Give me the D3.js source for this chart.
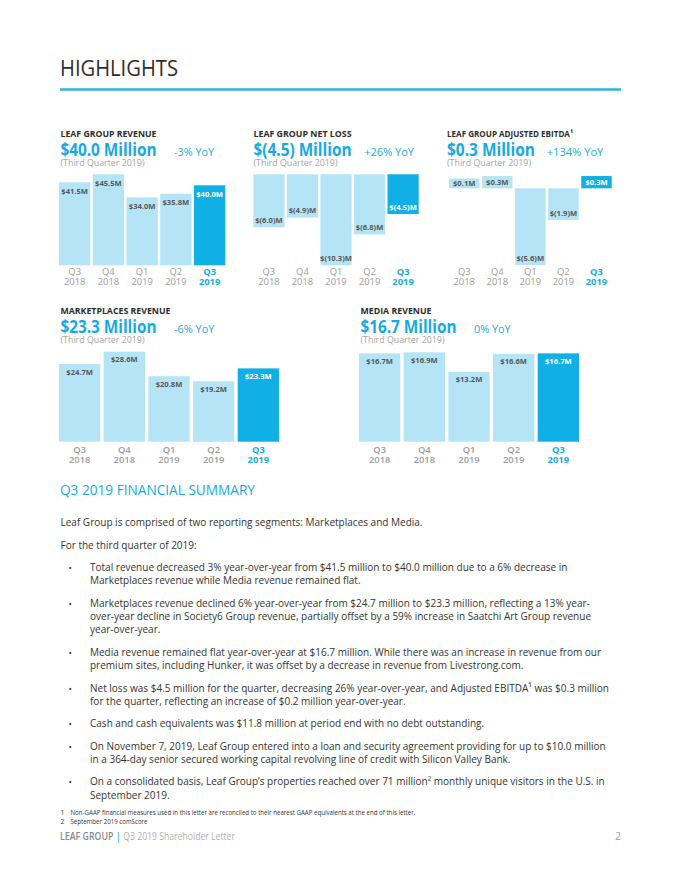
<!DOCTYPE html>
<html><head><meta charset="utf-8">
<script src="https://cdn.jsdelivr.net/npm/d3@7"></script>
<style>body{margin:0;background:#fff}svg{display:block}text{font-family:"Open Sans",sans-serif}</style>
</head><body><svg id="c" width="680" height="880"></svg>
<script>
// ---------- data ----------
const quarters = ["Q3","Q4","Q1","Q2","Q3"];
const years = ["2018","2018","2019","2019","2019"];
const revenue = [41.5,45.5,34.0,35.8,40.0];
const netLoss = [-6.0,-4.9,-10.3,-6.8,-4.5];
const adjEbitda = [0.1,0.3,-5.6,-1.9,0.3];
const marketplaces = [24.7,28.6,20.8,19.2,23.3];
const media = [16.7,16.9,13.2,16.6,16.7];
const panelTitles = ["LEAF GROUP REVENUE","LEAF GROUP NET LOSS","LEAF GROUP ADJUSTED EBITDA\u00b9","MARKETPLACES REVENUE","MEDIA REVENUE"];
const headlineValues = ["$40.0 Million","$(4.5) Million","$0.3 Million","$23.3 Million","$16.7 Million"];
const yoyChanges = ["-3% YoY","+26% YoY","+134% YoY","-6% YoY","0% YoY"];
const periodNote = "(Third Quarter 2019)";

const summaryIntro = ["Leaf Group is comprised of two reporting segments: Marketplaces and Media.","For the third quarter of 2019:"];
const bullets = [
 ["Total revenue decreased 3% year-over-year from $41.5 million to $40.0 million due to a 6% decrease in","Marketplaces revenue while Media revenue remained flat."],
 ["Marketplaces revenue declined 6% year-over-year from $24.7 million to $23.3 million, reflecting a 13% year-","over-year decline in Society6 Group revenue, partially offset by a 59% increase in Saatchi Art Group revenue","year-over-year."],
 ["Media revenue remained flat year-over-year at $16.7 million. While there was an increase in revenue from our","premium sites, including Hunker, it was offset by a decrease in revenue from Livestrong.com."],
 ["Net loss was $4.5 million for the quarter, decreasing 26% year-over-year, and Adjusted EBITDA\u00b9 was $0.3 million","for the quarter, reflecting an increase of $0.2 million year-over-year."],
 ["Cash and cash equivalents was $11.8 million at period end with no debt outstanding."],
 ["On November 7, 2019, Leaf Group entered into a loan and security agreement providing for up to $10.0 million","in a 364-day senior secured working capital revolving line of credit with Silicon Valley Bank."],
 ["On a consolidated basis, Leaf Group\u2019s properties reached over 71 million\u00b2 monthly unique visitors in the U.S. in","September 2019."]
];
const footnotes = [["1","Non-GAAP financial measures used in this letter are reconciled to their nearest GAAP equivalents at the end of this letter."],["2","September 2019 comScore"]];

// ---------- styles ----------
const BLUE="#17aae2", LIGHT="#b6e4f7", DARK="#10afe6", LBL="#595959", AX="#9b9b9b", INK="#2e2e2e";
const svg = d3.select("#c");
function fit(sel, w){ sel.attr("textLength", w).attr("lengthAdjust","spacingAndGlyphs"); }
const fmt = v => v < 0 ? `$(${Math.abs(v).toFixed(1)})M` : `$${v.toFixed(1)}M`;

svg.append("text").attr("x",60).attr("y",76).attr("font-size",21).attr("fill",INK)
  .text("HIGHLIGHTS").call(fit,118);
svg.append("line").attr("x1",60).attr("x2",621).attr("y1",89.5).attr("y2",89.5)
  .attr("stroke","#2db3e3").attr("stroke-width",2.5);

const rows = {
  top:{titleY:137, bigY:156.3, yoyY:155.5, subY:166.4, qY:275, yrY:285.2, axW:400, lblOff:11.6},
  bot:{titleY:313.8, bigY:333.3, yoyY:332.5, subY:343.4, qY:452.6, yrY:462.6, axW:600, lblOff:10.6}
};
const panels = [
 {i:0,row:"top",values:revenue,kind:"pos",x0:59,x1:225.3,tx:60.5,tw:96,bw:96,yx:174,yw:40,base:265.3,max:45.5,h:91,pad:0.07},
 {i:1,row:"top",values:netLoss,kind:"neg",x0:253.3,x1:418.7,tx:253.5,tw:98,bw:98,yx:364.3,yw:49.7,top:174.3,max:10.3,h:91,pad:0.07},
 {i:2,row:"top",values:adjEbitda,kind:"mixed",x0:449,x1:611.7,tx:447,tw:126,bw:88,yx:546.7,yw:56.6,zero:188.3,pad:0.08},
 {i:3,row:"bot",values:marketplaces,kind:"pos",x0:59,x1:279,tx:60.5,tw:110,bw:96,yx:174,yw:40.3,base:441.7,max:28.6,h:90,pad:0.075},
 {i:4,row:"bot",values:media,kind:"pos",x0:359,x1:579,tx:360.5,tw:71,bw:96,yx:474,yw:36.7,base:441.7,max:16.9,h:89.4,pad:0.075}
];

panels.forEach(p => {
  const r = rows[p.row];
  const g = svg.append("g");
  g.append("text").attr("x",p.tx).attr("y",r.titleY).attr("font-size",8.6).attr("font-weight",700)
    .attr("fill",INK).text(panelTitles[p.i]).call(fit,p.tw);
  g.append("text").attr("x",p.tx).attr("y",r.bigY).attr("font-size",17).attr("font-weight",700)
    .attr("fill",BLUE).text(headlineValues[p.i]).call(fit,p.bw);
  g.append("text").attr("x",p.yx).attr("y",r.yoyY).attr("font-size",11).attr("fill",BLUE)
    .text(yoyChanges[p.i]).call(fit,p.yw);
  g.append("text").attr("x",p.tx).attr("y",r.subY).attr("font-size",9.6).attr("fill","#a3a3a3")
    .text(periodNote).call(fit,84);

  const x = d3.scaleBand().domain(d3.range(p.values.length)).range([p.x0,p.x1]).paddingInner(p.pad).paddingOuter(0);
  let rects = [];
  if (p.kind === "pos") {
    const y = d3.scaleLinear().domain([0,p.max]).range([p.base,p.base-p.h]);
    rects = p.values.map(v => ({v, y:y(v), hgt:p.base-y(v), ly:y(v)+r.lblOff}));
  } else if (p.kind === "neg") {
    const y = d3.scaleLinear().domain([0,-p.max]).range([p.top,p.top+p.h]);
    rects = p.values.map(v => ({v, y:p.top, hgt:y(v)-p.top, ly:y(v)-4.4}));
  } else {
    const mag = d3.scaleLinear().domain([0,5.6]).range([8.6,76.7]);
    rects = p.values.map(v => v >= 0
      ? ({v, y:p.zero-mag(v), hgt:mag(v), ly:p.zero-mag(v)/2+2.7})
      : ({v, y:p.zero, hgt:mag(-v), ly:p.zero+mag(-v)-4.4}));
  }
  const last = p.values.length-1;
  g.selectAll("rect.bar").data(rects).join("rect").attr("class","bar")
    .attr("x",(d,i)=>x(i)).attr("width",x.bandwidth())
    .attr("y",d=>d.y).attr("height",d=>d.hgt)
    .attr("fill",(d,i)=> i===last ? DARK : LIGHT);
  g.selectAll("text.lbl").data(rects).join("text").attr("class","lbl")
    .attr("x",(d,i)=>x(i)+x.bandwidth()/2).attr("y",d=>d.ly)
    .attr("text-anchor","middle").attr("font-size",7.6).attr("font-weight",700)
    .attr("fill",(d,i)=> i===last ? "#fff" : LBL).text(d=>fmt(d.v));
  g.selectAll("text.q").data(quarters).join("text").attr("class","q")
    .attr("x",(d,i)=>x(i)+x.bandwidth()/2).attr("y",r.qY).attr("text-anchor","middle")
    .attr("font-size",9.4).attr("font-weight",(d,i)=> i===last ? 700 : r.axW)
    .attr("fill",(d,i)=> i===last ? BLUE : AX).text(d=>d);
  g.selectAll("text.yr").data(years).join("text").attr("class","yr")
    .attr("x",(d,i)=>x(i)+x.bandwidth()/2).attr("y",r.yrY).attr("text-anchor","middle")
    .attr("font-size",9.4).attr("font-weight",(d,i)=> i===last ? 700 : r.axW)
    .attr("fill",(d,i)=> i===last ? BLUE : AX).text(d=>d);
});

// ---------- summary ----------
svg.append("text").attr("x",60).attr("y",495.2).attr("font-size",15).attr("fill",BLUE)
  .text("Q3 2019 FINANCIAL SUMMARY").call(fit,195);

const body = svg.append("g").attr("font-size",11).attr("fill","#333");
let y = 526.3; const LH = 13.3, PG = 22.4;
const lines = [];
summaryIntro.forEach((t,k) => { lines.push({t, x:60.5, y}); y += PG; });
bullets.forEach(b => {
  body.append("text").attr("x",68.5).attr("y",y).attr("font-size",9).text("\u2022");
  b.forEach((t,j) => { lines.push({t, x:90, y}); if (j < b.length-1) y += LH; });
  y += PG;
});
const nodes = lines.map(l => body.append("text").attr("x",l.x).attr("y",l.y).text(l.t));
const ref = nodes[lines.findIndex(l => l.t.startsWith("Net loss"))];
const factor = 519 / ref.node().getComputedTextLength();
nodes.forEach(n => n.call(fit, n.node().getComputedTextLength()*factor));

// footnotes
const fn = svg.append("g").attr("font-size",6.6).attr("fill","#333");
footnotes.forEach((f,k) => {
  fn.append("text").attr("x",60.5).attr("y",814.8 + k*9.5).text(f[0]);
  const t = fn.append("text").attr("x",70.5).attr("y",814.8 + k*9.5).text(f[1]);
  t.call(fit, t.node().getComputedTextLength()*0.93);
});

// footer
const foot = svg.append("g").attr("font-size",10);
foot.append("text").attr("x",60).attr("y",840).attr("font-weight",600).attr("fill","#8a8a8a")
  .text("LEAF GROUP").call(fit,53.5);
foot.append("text").attr("x",118.3).attr("y",840).attr("text-anchor","middle").attr("fill",BLUE).text("|");
foot.append("text").attr("x",123.3).attr("y",840).attr("fill","#b0b0b0")
  .text("Q3 2019 Shareholder Letter").call(fit,111.7);
foot.append("text").attr("x",621).attr("y",840).attr("text-anchor","end").attr("fill","#9a9a9a").text("2");
</script></body></html>
